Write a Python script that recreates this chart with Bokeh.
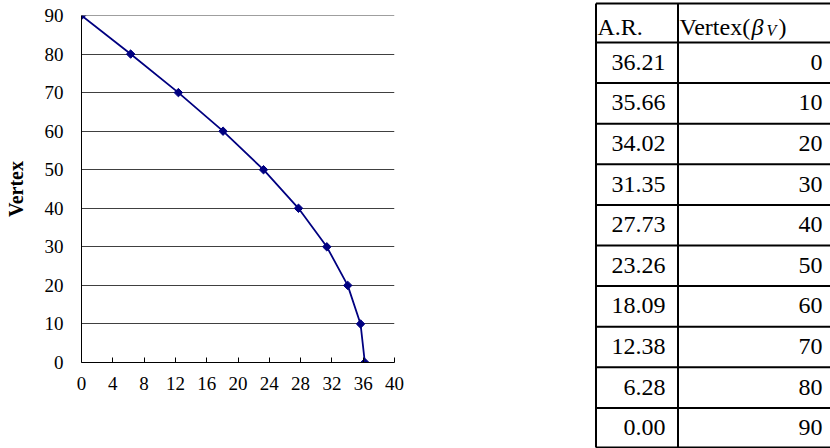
import math
from bokeh.plotting import figure
from bokeh.models import Range1d, FixedTicker, ColumnDataSource, Span
from bokeh.layouts import row
from bokeh.core.properties import value
from bokeh.embed import file_html
from bokeh.resources import INLINE

# ---- data ----
aspect_ratio = [36.21, 35.66, 34.02, 31.35, 27.73, 23.26, 18.09, 12.38, 6.28, 0.00]
vertex = [0, 10, 20, 30, 40, 50, 60, 70, 80, 90]
x_ticks = [0, 4, 8, 12, 16, 20, 24, 28, 32, 36, 40]
y_ticks = [0, 10, 20, 30, 40, 50, 60, 70, 80, 90]
y_label = "Vertex"
col_headers = ["A.R.", "Vertex("]

FONT = "Liberation Serif"
NAVY = "#000080"

# ---- chart (page x 0..420) ----
p = figure(width=420, height=448, output_backend="svg", toolbar_location=None,
           x_range=Range1d(x_ticks[0], x_ticks[-1]), y_range=Range1d(y_ticks[0], y_ticks[-1]),
           min_border_left=81, min_border_right=26, min_border_top=15, min_border_bottom=86,
           frame_align=False)
p.outline_line_color = None
p.background_fill_color = "white"
p.border_fill_color = "white"

p.xaxis.ticker = FixedTicker(ticks=x_ticks)
p.yaxis.ticker = FixedTicker(ticks=y_ticks)
for ax in (p.xaxis[0], p.yaxis[0]):
    ax.axis_line_color = "black"
    ax.axis_line_width = 1
    ax.major_label_text_font = FONT
    ax.major_label_text_font_size = "19px"
    ax.major_label_text_color = "black"
    ax.minor_tick_line_color = None
p.xaxis.major_tick_in = 5
p.xaxis.major_tick_out = 0
p.xaxis.major_tick_line_color = "black"
p.xaxis.major_label_standoff = 14
p.yaxis.major_tick_in = 0
p.yaxis.major_tick_out = 0
p.yaxis.major_label_standoff = 18
p.yaxis.axis_label = y_label
p.yaxis.axis_label_text_font = FONT
p.yaxis.axis_label_text_font_style = "bold"
p.yaxis.axis_label_text_font_size = "20px"
p.yaxis.axis_label_text_color = "black"
p.yaxis.axis_label_standoff = 15

p.xgrid.grid_line_color = None
p.ygrid.grid_line_color = "#404040"
p.ygrid.grid_line_width = 1
# top gridline at the last tick (grid may skip the range edge)
p.add_layout(Span(location=y_ticks[-1], dimension="width", line_color="#404040", line_width=1))

src = ColumnDataSource(dict(x=aspect_ratio, y=vertex))
p.line("x", "y", source=src, line_color=NAVY, line_width=1.8)
p.scatter("x", "y", source=src, marker="square", angle=math.pi / 4, size=6,
          fill_color=NAVY, line_color=NAVY)

# ---- table (page x 420..830), drawn in page-pixel coordinates ----
t = figure(width=410, height=448, output_backend="svg", toolbar_location=None,
           x_range=Range1d(420, 830), y_range=Range1d(448, 0),
           min_border=0, min_border_left=0, min_border_right=0, min_border_top=0, min_border_bottom=0,
           frame_align=False)
t.axis.visible = False
t.grid.visible = False
t.outline_line_color = None
t.background_fill_color = "white"
t.border_fill_color = "white"

tbl_left, tbl_mid, tbl_right = 595.5, 677.5, 832
top, header_end, row_h = 3, 42, 40.6
n = len(aspect_ratio)
row_bounds = [top, header_end] + [header_end + (i + 1) * row_h for i in range(n)]
row_bounds[-1] = min(row_bounds[-1], 447)
t.segment(x0=[tbl_left] * len(row_bounds), x1=[tbl_right] * len(row_bounds),
          y0=row_bounds, y1=row_bounds, line_color="black", line_width=2)
t.segment(x0=[tbl_left, tbl_mid], x1=[tbl_left, tbl_mid],
          y0=[top, top], y1=[row_bounds[-1], row_bounds[-1]], line_color="black", line_width=2)

# header
HF = "24px"
hy = 26
t.text(x=[597], y=[hy], text=[col_headers[0]], text_font=value(FONT), text_font_size=HF,
       text_color="black", text_baseline="middle", text_align="left")
t.text(x=[679], y=[hy], text=[col_headers[1]], text_font=value(FONT), text_font_size=HF,
       text_color="black", text_baseline="middle", text_align="left")
t.text(x=[751], y=[hy], text=["\u03b2"], text_font=value(FONT), text_font_size=HF,
       text_font_style="italic", text_color="black", text_baseline="middle", text_align="left")
t.text(x=[766], y=[hy + 4], text=["V"], text_font=value(FONT), text_font_size="16px",
       text_font_style="italic", text_color="black", text_baseline="middle", text_align="left")
t.text(x=[778], y=[hy], text=[")"], text_font=value(FONT), text_font_size=HF,
       text_color="black", text_baseline="middle", text_align="left")

# cells
centers = [(row_bounds[i + 1] + row_bounds[i + 2]) / 2 - 0.5 for i in range(n)]
tsrc = ColumnDataSource(dict(
    ar=[f"{v:.2f}" for v in aspect_ratio],
    vx=[str(v) for v in vertex],
    y=centers,
    xa=[665] * n,
    xv=[822] * n,
))
t.text(x="xa", y="y", text="ar", source=tsrc, text_font=value(FONT), text_font_size=HF,
       text_color="black", text_baseline="middle", text_align="right")
t.text(x="xv", y="y", text="vx", source=tsrc, text_font=value(FONT), text_font_size=HF,
       text_color="black", text_baseline="middle", text_align="right")

layout = row(p, t)
open("out.html", "w").write(file_html(layout, INLINE))
